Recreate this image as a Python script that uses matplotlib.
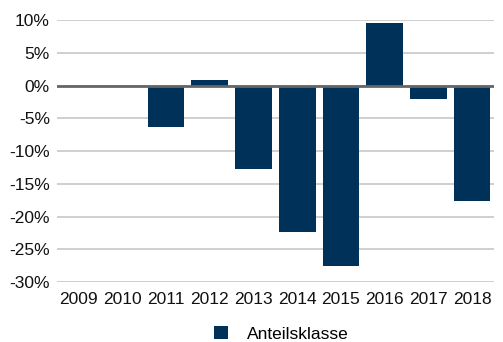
import matplotlib.pyplot as plt
import numpy as np
from matplotlib.ticker import FuncFormatter

plt.rcParams['font.family'] = ['Liberation Sans', 'DejaVu Sans']

# Jahreswerte
years = ["2009", "2010", "2011", "2012", "2013", "2014", "2015", "2016", "2017", "2018"]
returns = [0.0, 0.0, -6.3, 0.9, -12.7, -22.4, -27.6, 9.5, -2.0, -17.6]
series_name = "Anteilsklasse"

fig = plt.figure(figsize=(5.03, 3.42), dpi=100)
ax = fig.add_axes([0.113, 0.1754, 0.869, 0.7661])

x = np.arange(len(years))
ax.bar(x, returns, width=0.84, color='#003159', label=series_name, zorder=3)

ax.set_xlim(-0.5, len(years) - 0.5)
ax.set_ylim(-30, 10)
ax.set_yticks(np.arange(-30, 11, 5))
ax.yaxis.set_major_formatter(FuncFormatter(lambda v, p: f"{v:.0f}%"))
ax.set_xticks(x)
ax.set_xticklabels(years)

ax.grid(axis='y', color='#cccccc', linewidth=1.3, zorder=0)
ax.axhline(0, color='#666666', linewidth=2, zorder=4)

for s in ax.spines.values():
    s.set_visible(False)
ax.tick_params(length=0, labelsize=12.5, colors='#111111')
ax.tick_params(axis='y', pad=5)
ax.tick_params(axis='x', pad=7)

fig.legend(loc='lower center', bbox_to_anchor=(0.56, -0.045), frameon=False,
           fontsize=12.5, handlelength=0.8, handleheight=0.8, handletextpad=1.1)

fig.savefig("out.png", dpi=100)
